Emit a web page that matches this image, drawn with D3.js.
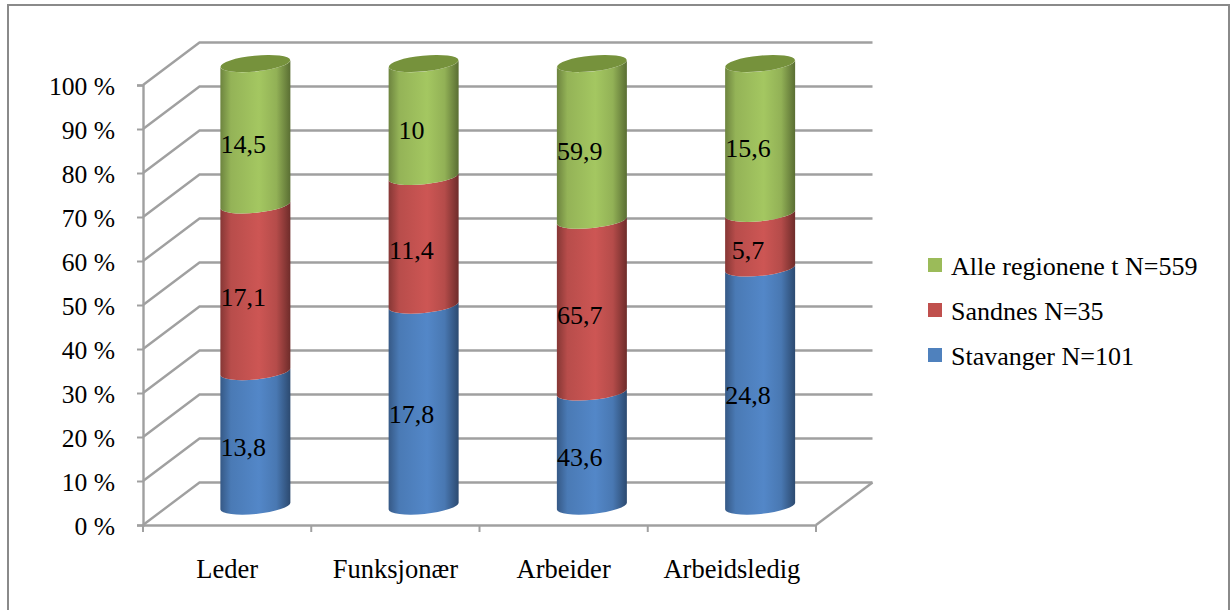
<!DOCTYPE html>
<html><head><meta charset="utf-8">
<script src="https://cdnjs.cloudflare.com/ajax/libs/d3/7.8.5/d3.min.js"></script>
<style>html,body{margin:0;padding:0;background:#fff;overflow:hidden}svg{display:block}
text{font-family:"Liberation Serif",serif;fill:#000}</style></head><body>
<script>
const categories = ["Leder","Funksjonær","Arbeider","Arbeidsledig"];
const seriesNames = ["Stavanger N=101","Sandnes N=35","Alle regionene t N=559"];
const stavanger = [13.8,17.8,43.6,24.8];
const sandnes = [17.1,11.4,65.7,5.7];
const alle = [14.5,10,59.9,15.6];
const valueLabels = [["13,8","17,8","43,6","24,8"],["17,1","11,4","65,7","5,7"],["14,5","10","59,9","15,6"]];
const yTicks = [0,.1,.2,.3,.4,.5,.6,.7,.8,.9,1];
const baseColors = ["#4f81bd","#c0504d","#9bbb59"];
const midColors = ["#5387c8","#cd5654","#a4c761"];
const edgeColors = ["#2c4a70","#6e2c2a","#5a6e33"];
const topColor = "#76923c";
const gridColor = "#a0a0a0";

const W=1230,H=610;
const depthX=56.5, depthY=42.5, barW=70;
const x=d3.scaleBand().domain(categories).range([143,816]);
const y=d3.scaleLinear().domain([0,1]).range([525,85]);
const barY=d3.scaleLinear().domain([0,1]).range([506,63.5]);

const rows=categories.map((c,i)=>({cat:c,s0:stavanger[i],s1:sandnes[i],s2:alle[i]}));
const stacked=d3.stack().keys(["s0","s1","s2"]).offset(d3.stackOffsetExpand)(rows);

const svg=d3.select("body").append("svg").attr("width",W).attr("height",H);
const defs=svg.append("defs");
baseColors.forEach((c,i)=>{
  const g=defs.append("linearGradient").attr("id","g"+i).attr("x1",0).attr("x2",1).attr("y1",0).attr("y2",0);
  const colour=d3.color(midColors[i]), edge=d3.color(edgeColors[i]);
  [[0,.75],[.15,.22],[.55,0],[.8,.25],[1,1]].forEach(s=>{
    g.append("stop").attr("offset",s[0]).attr("stop-color",d3.interpolateRgb(colour,edge)(s[1]));
  });
});

svg.append("path").attr("d",`M8,${H}V5H${W-1}V${H}`).attr("fill","none").attr("stroke","#8a8a8a").attr("stroke-width",2);

// walls and gridlines
const wall=svg.append("g").attr("fill","none").attr("stroke",gridColor).attr("stroke-width",2.4);
yTicks.forEach(t=>{
  const yy=y(t);
  wall.append("path").attr("d",d3.line()([[x.range()[0],yy],[x.range()[0]+depthX,yy-depthY],[x.range()[1]+depthX,yy-depthY]]));
});
wall.append("path").attr("d",d3.line()([[x.range()[1],y(0)],[x.range()[1]+depthX,y(0)-depthY]]));

// axes
const yAxis=d3.axisLeft(y).tickValues(yTicks).tickFormat(d=>Math.round(d*100)+" %").tickSize(6).tickPadding(22);
const ga=svg.append("g").attr("transform",`translate(${x.range()[0]},0)`).call(yAxis);
const xAxis=d3.axisBottom(x).tickSize(0).tickPadding(30);
const gb=svg.append("g").attr("transform",`translate(0,${y(0)})`).call(xAxis);
[...x.domain().map(d=>x(d)),x.range()[1]].forEach(px=>{
  gb.append("line").attr("class","tk").attr("x1",px).attr("x2",px).attr("y1",0).attr("y2",7);
});
[ga,gb].forEach(g=>{
  g.selectAll(".domain").attr("stroke",gridColor).attr("stroke-width",2.4);
  g.selectAll(".tick line,.tk").attr("stroke",gridColor).attr("stroke-width",2);
  g.selectAll("text").attr("font-family","Liberation Serif").attr("fill","#000");
});
ga.selectAll("text").attr("font-size",25.6).attr("y",1);
gb.selectAll("text").attr("font-size",26.5).attr("dy",".85em");

// cylinders
const tiltX=barW/2, tiltY=3.5, ry=7.9, rot=-5.7;
const cx=c=>x(c)+x.bandwidth()/2+depthX/2;
const rowIdx=categories.map((_,i)=>i);
const barsG=svg.append("g");
rowIdx.forEach(i=>{
  const c=categories[i], m=cx(c);
  stacked.forEach((s,k)=>{
    const y0=barY(s[i][0]), y1=barY(s[i][1]);
    const d=`M${m-tiltX},${y0+tiltY}A${tiltX},${ry} ${rot} 0 0 ${m+tiltX},${y0-tiltY}`+
      `L${m+tiltX},${y1-tiltY}A${tiltX},${ry} ${rot} 0 1 ${m-tiltX},${y1+tiltY}Z`;
    barsG.append("path").attr("d",d).attr("fill",`url(#g${k})`);
  });
  barsG.append("ellipse").attr("cx",0).attr("cy",0).attr("rx",tiltX).attr("ry",ry)
    .attr("transform",`translate(${m},${barY(1)}) rotate(${rot})`).attr("fill",topColor);
});

// value labels
stacked.forEach((s,k)=>{
  rowIdx.forEach(i=>{
    const mid=(s[i][0]+s[i][1])/2;
    svg.append("text").attr("x",x(categories[i])+x.bandwidth()/2+16).attr("y",y(mid)-11)
      .attr("text-anchor","middle").attr("dominant-baseline","central").attr("font-size",26).text(valueLabels[k][i]);
  });
});

// legend
const legY=d3.scalePoint().domain([2,1,0]).range([265,355]);
[2,1,0].forEach(k=>{
  svg.append("rect").attr("x",928).attr("y",legY(k)-7).attr("width",14).attr("height",14).attr("fill",baseColors[k]);
  svg.append("text").attr("x",951).attr("y",legY(k)+1).attr("dominant-baseline","central").attr("font-size",26).text(seriesNames[k]);
});
</script></body></html>
